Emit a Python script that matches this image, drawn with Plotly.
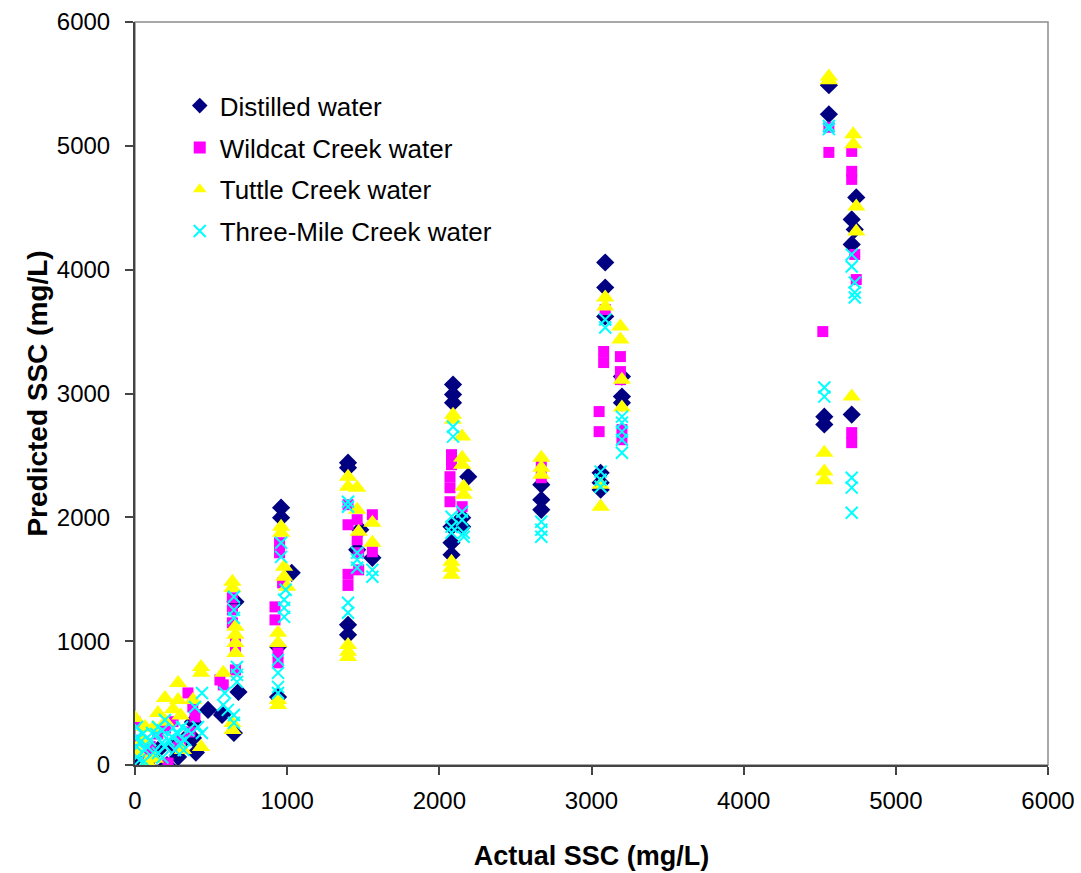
import plotly.graph_objects as go

# ---------------- data ----------------
distilled_x = [0, 20, 100, 150, 210, 250, 283, 320, 381, 381, 400, 480,
               660, 680, 580, 650, 572,
               960, 960, 1030, 940, 940,
               1400, 1400, 1460, 1480, 1560, 1400, 1400,
               2090, 2090, 2090, 2190, 2150, 2150, 2080, 2080, 2080,
               2670, 2670, 2670,
               3090, 3090, 3090, 3200, 3200, 3200, 3060, 3060, 3060,
               4560, 4560, 4530, 4530,
               4740, 4710, 4730, 4710, 4710]
distilled_y = [0, 80, 50, 120, 0, 150, 65, 200, 348, 218, 100, 445,
               1318, 590, 420, 259, 404,
               2078, 1997, 1552, 954, 550,
               2441, 2401, 1738, 1900, 1673, 1132, 1051,
               3072, 2991, 2926, 2328, 1997, 1924, 1924, 1795, 1698,
               2264, 2142, 2061,
               4058, 3856, 3622, 3137, 2975, 2926, 2360, 2280, 2223,
               5490, 5255, 2813, 2750,
               4583, 4406, 4325, 4204, 2830]

wildcat_x = [0, 20, 85, 100, 150, 200, 217, 250, 300, 348, 361, 283, 394, 380,
             640, 640, 640, 660, 660, 660, 580, 558,
             950, 950, 970, 920, 920, 940, 940,
             1400, 1400, 1460, 1560, 1460, 1470, 1470, 1560, 1400, 1400,
             2080, 2080, 2070, 2070, 2070, 2150,
             2670, 2670,
             3090, 3080, 3080, 3190, 3190, 3190, 3200, 3200, 3050, 3050,
             4560, 4560, 4520,
             4710, 4710, 4710, 4730, 4740, 4710, 4710]
wildcat_y = [348, 200, 65, 150, 250, 300, 16, 350, 200, 582, 267, 145, 388, 469,
             1350, 1253, 1148, 1010, 930, 768, 647, 687,
             1795, 1714, 1471, 1277, 1172, 905, 825,
             2102, 1940, 1981, 2021, 1819, 1714, 1576, 1722, 1540, 1450,
             2506, 2425, 2328, 2239, 2126, 2086,
             2409, 2320,
             3678, 3339, 3250, 3298, 3177, 3112, 2708, 2627, 2854, 2692,
             5150, 4947, 3500,
             4955, 4794, 4729, 4123, 3920, 2684, 2603]

tuttle_x = [0, 20, 50, 79, 120, 130, 197, 200, 250, 283, 283, 300, 434, 381,
            434, 151, 66, 315, 434,
            640, 640, 660, 660, 660, 660, 580, 640, 640,
            960, 960, 980, 980, 1000, 940, 940, 940, 940,
            1400, 1400, 1460, 1460, 1470, 1560, 1560, 1400, 1400, 1400,
            2090, 2090, 2150, 2150, 2150, 2160, 2160, 2080, 2080, 2080,
            2670, 2670, 2670,
            3090, 3090, 3190, 3190, 3200, 3200, 3060, 3060,
            4560, 4560, 4530, 4530, 4530,
            4720, 4720, 4740, 4740, 4710]
tuttle_y = [380, 100, 200, 24, 300, 50, 542, 350, 450, 663, 525, 400, 792, 525,
            145, 420, 307, 121, 744,
            1479, 1430, 1116, 1051, 986, 905, 744, 340, 283,
            1924, 1876, 1600, 1520, 1439, 1067, 986, 525, 485,
            2328, 2247, 2239, 2061, 1884, 1956, 1795, 970, 914, 873,
            2829, 2789, 2652, 2482, 2425, 2247, 2183, 1641, 1593, 1536,
            2482, 2401, 2344,
            3775, 3703, 3541, 3436, 3112, 2886, 2264, 2086,
            5560, 5530, 2522, 2370, 2300,
            5093, 5012, 4511, 4309, 2975]

threemile_x = [13, 13, 13, 13, 30, 30, 50, 60, 80, 100, 112, 120, 140, 151,
               177, 180, 180, 197, 200, 220, 243, 250, 263, 280, 300, 309,
               320, 329, 350, 394, 414, 440, 440, 151, 66,
               650, 650, 650, 670, 670, 670, 590, 580, 610, 650, 650,
               960, 960, 990, 980, 980, 980, 940, 940, 940, 940,
               1400, 1400, 1460, 1460, 1460, 1560, 1560, 1400, 1400,
               2090, 2090, 2150, 2150, 2160, 2160, 2080, 2080, 2080,
               2670, 2670, 2670,
               3090, 3090, 3200, 3200, 3200, 3200, 3200, 3060, 3060, 3060,
               4560, 4560, 4530, 4530,
               4710, 4710, 4730, 4730, 4730, 4710, 4710, 4710]
threemile_y = [307, 226, 145, 65, 180, 40, 250, 30, 150, 200, 259, 100, 250, 307,
               178, 280, 60, 364, 150, 200, 226, 300, 121, 250, 180, 307,
               120, 202, 280, 469, 307, 259, 582, 97, 121,
               1358, 1253, 1188, 792, 728, 671, 582, 485, 445, 404, 340,
               1795, 1681, 1415, 1334, 1269, 1196, 849, 744, 631, 582,
               2126, 2086, 1714, 1657, 1593, 1576, 1520, 1310, 1229,
               2732, 2652, 2045, 1981, 1876, 1843, 2005, 1924, 1876,
               1964, 1900, 1843,
               3597, 3533, 2813, 2765, 2692, 2627, 2522, 2369, 2304, 2247,
               5160, 5135, 3048, 2975,
               4123, 4026, 3896, 3815, 3775, 2320, 2240, 2037]

x_ticks = [0, 1000, 2000, 3000, 4000, 5000, 6000]
y_ticks = [0, 1000, 2000, 3000, 4000, 5000, 6000]

FONT = "Liberation Sans, Arial, sans-serif"

fig = go.Figure()
fig.add_trace(go.Scatter(
    x=distilled_x, y=distilled_y, mode="markers", name="Distilled water",
    legendgroup="a",
    marker=dict(symbol="diamond", size=14, color="#000080", line=dict(width=0))))
fig.add_trace(go.Scatter(
    x=wildcat_x, y=wildcat_y, mode="markers", name="Wildcat Creek water",
    legendgroup="b",
    marker=dict(symbol="square", size=11, color="#FF00FF", line=dict(width=0))))
fig.add_trace(go.Scatter(
    x=tuttle_x, y=tuttle_y, mode="markers", name="Tuttle Creek water",
    legendgroup="c",
    marker=dict(symbol="triangle-up", size=16, color="#FFFF00", line=dict(width=0))))
fig.add_trace(go.Scatter(
    x=threemile_x, y=threemile_y, mode="markers", name="Three-Mile Creek water",
    legendgroup="d",
    marker=dict(symbol="x-thin", size=12, color="#00FFFF",
                line=dict(width=2, color="#00FFFF"))))

# light grey top/right frame
fig.add_shape(type="rect", xref="paper", yref="paper", x0=0, y0=0, x1=1, y1=1,
              line=dict(color="#8c8c8c", width=1.5), layer="below")

fig.update_layout(
    width=1081, height=873,
    margin=dict(l=135, r=33, t=22, b=108, autoexpand=False),
    paper_bgcolor="white", plot_bgcolor="white",
    font=dict(family=FONT, size=24, color="black"),
    showlegend=True,
    legend=dict(x=0.049, y=0.919, xanchor="left", yanchor="top",
                bgcolor="rgba(0,0,0,0)", font=dict(size=26, family=FONT),
                tracegroupgap=5, itemsizing="constant"),
    xaxis=dict(range=[0, 6000], tickvals=x_ticks, ticktext=[str(v) for v in x_ticks],
               automargin=False,
               showgrid=False, zeroline=False, showline=True, linecolor="#444444",
               linewidth=2, ticks="outside", ticklen=8, tickcolor="#444444",
               tickwidth=1.5, ticklabelstandoff=5,
               tickfont=dict(size=24, family=FONT),
               title=dict(text="<b>Actual SSC (mg/L)</b>", standoff=33,
                          font=dict(size=27, family=FONT))),
    yaxis=dict(range=[0, 6000], tickvals=y_ticks, ticktext=[str(v) for v in y_ticks],
               automargin=False,
               showgrid=False, zeroline=False, showline=True, linecolor="#444444",
               linewidth=2, ticks="outside", ticklen=8, tickcolor="#444444",
               tickwidth=1.5, ticklabelstandoff=10,
               tickfont=dict(size=24, family=FONT),
               title=dict(text="<b>Predicted SSC (mg/L)</b>", standoff=1,
                          font=dict(size=28, family=FONT))),
)

fig.write_html("out.html", config={"displayModeBar": False},
               post_script="document.body.style.margin='0';document.body.style.padding='0';")
